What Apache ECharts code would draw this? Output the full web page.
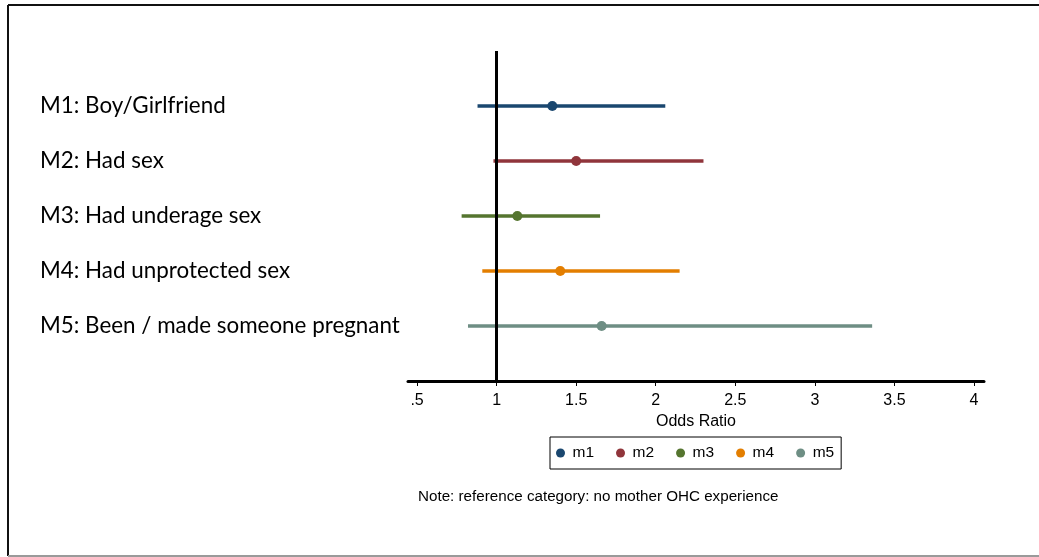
<!DOCTYPE html>
<html>
<head>
<meta charset="utf-8">
<script src="https://cdn.jsdelivr.net/npm/echarts@6/dist/echarts.min.js"></script>
<style>
  html, body { margin: 0; padding: 0; background: #fff; }
  #chart { width: 1039px; height: 557px; }
</style>
</head>
<body>
<div id="chart"></div>
<script>
// Odds ratios with confidence intervals, one row per model
const categories = [
  'M1: Boy/Girlfriend',
  'M2: Had sex',
  'M3: Had underage sex',
  'M4: Had unprotected sex',
  'M5: Been / made someone pregnant'
];
const models = ['m1', 'm2', 'm3', 'm4', 'm5'];
const oddsRatio = [1.35, 1.50, 1.13, 1.40, 1.66];
const ciLow = [0.88, 0.98, 0.78, 0.91, 0.82];
const ciHigh = [2.06, 2.30, 1.65, 2.15, 3.36];
const tickValues = [0.5, 1, 1.5, 2, 2.5, 3, 3.5, 4];
const colors = ['#1a476f', '#90353b', '#55752f', '#e37e00', '#6e8e84'];
const noteText = 'Note: reference category: no mother OHC experience';

const tickFont = 'Liberation Sans, Arial, sans-serif';
const rowFont = 'Lato, "Open Sans", sans-serif';

const series = [];
models.forEach((m, i) => {
  const row = i + 1;
  const ci = {
    name: m,
    type: 'line',
    data: [[ciLow[i], row], [ciHigh[i], row]],
    showSymbol: false,
    symbol: 'none',
    lineStyle: { color: colors[i], width: 3.5 },
    itemStyle: { color: colors[i] },
    silent: true,
    z: 3
  };
  if (i === 0) {
    // reference line at odds ratio 1
    ci.markLine = {
      silent: true,
      symbol: 'none',
      label: { show: false },
      lineStyle: { color: '#000', width: 3, type: 'solid' },
      data: [{ xAxis: 1 }]
    };
  }
  series.push(ci);
  series.push({
    name: m,
    type: 'scatter',
    data: [[oddsRatio[i], row]],
    symbol: 'circle',
    symbolSize: 10,
    itemStyle: { color: colors[i], opacity: 1 },
    silent: true,
    z: 4
  });
});

const chart = echarts.init(document.getElementById('chart'), null, { renderer: 'canvas' });
chart.setOption({
  animation: false,
  backgroundColor: '#fff',
  title: {
    text: noteText,
    left: 413,
    top: 484,
    textStyle: { fontFamily: tickFont, fontSize: 15.2, fontWeight: 'normal', color: '#000' }
  },
  legend: {
    left: 550,
    top: 437,
    orient: 'horizontal',
    data: models.map(m => ({ name: m, icon: 'circle' })),
    itemWidth: 14,
    itemHeight: 9,
    itemGap: 22,
    padding: [8, 7, 8, 6],
    borderColor: '#000',
    borderWidth: 1,
    selectedMode: false,
    textStyle: { fontFamily: tickFont, fontSize: 15.5, color: '#000' }
  },
  grid: { left: 408, right: 55, top: 51, height: 330, containLabel: false },
  xAxis: {
    type: 'value',
    min: 0.443,
    max: 4.063,
    name: 'Odds Ratio',
    nameLocation: 'middle',
    nameGap: 31,
    nameTextStyle: { fontFamily: tickFont, fontSize: 16, color: '#000' },
    axisLine: { show: true, onZero: false, lineStyle: { color: '#000', width: 3 } },
    axisTick: {
      show: true,
      customValues: tickValues,
      length: 5,
      lineStyle: { color: '#000', width: 1 }
    },
    axisLabel: {
      show: true,
      customValues: tickValues,
      margin: 12,
      fontFamily: tickFont,
      fontSize: 16,
      color: '#000',
      formatter: v => (v < 1 ? String(v).replace(/^0/, '') : String(v))
    },
    splitLine: { show: false }
  },
  yAxis: {
    type: 'value',
    inverse: true,
    min: 0,
    max: 6,
    axisLine: { show: false },
    axisTick: { show: false },
    splitLine: { show: false },
    axisLabel: {
      show: true,
      customValues: [1, 2, 3, 4, 5],
      align: 'left',
      verticalAlign: 'middle',
      margin: 368,
      fontFamily: rowFont,
      fontSize: 22.4,
      lineHeight: 22,
      padding: [5, 0, 0, 0],
      color: '#000',
      formatter: v => categories[Math.round(v) - 1] || ''
    }
  },
  graphic: [
    { type: 'line', shape: { x1: 8, y1: 5, x2: 1039, y2: 5 }, style: { stroke: '#111', lineWidth: 2 }, silent: true },
    { type: 'line', shape: { x1: 8, y1: 5, x2: 8, y2: 556 }, style: { stroke: '#111', lineWidth: 2 }, silent: true },
    { type: 'line', shape: { x1: 8, y1: 556, x2: 1039, y2: 556 }, style: { stroke: '#9a9a9a', lineWidth: 2 }, silent: true }
  ],
  series: series
});
</script>
</body>
</html>
